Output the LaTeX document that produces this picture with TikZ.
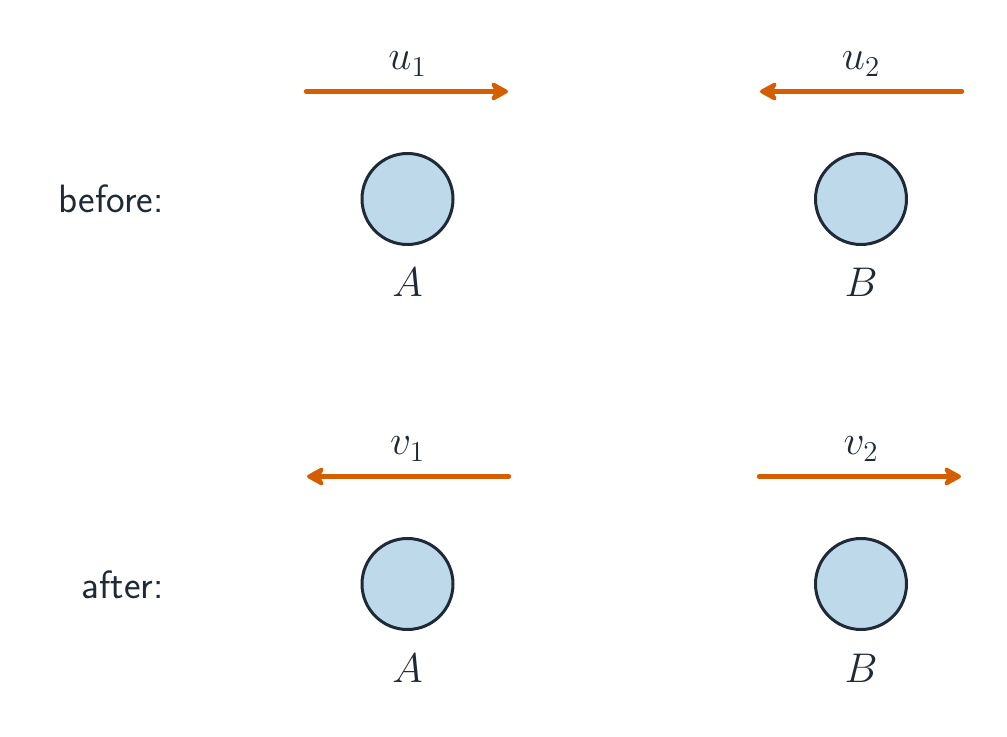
\documentclass[tikz,border=0pt]{standalone}
\usepackage{fontspec}
\usetikzlibrary{arrows.meta}
\definecolor{ink}{HTML}{1F2937}
\definecolor{ballfill}{HTML}{BEDAEA}
\definecolor{vel}{HTML}{D55E00}
\tikzset{
  ball/.style={circle, draw=ink, fill=ballfill, line width=1.5pt, minimum size=45.5pt, inner sep=0pt},
  velarrow/.style={draw=vel, line width=2.2pt, line cap=round, -{Stealth[length=10.5pt, width=11.5pt, inset=3pt, round]}},
  mathlbl/.style={text=ink, anchor=base, inner sep=0pt, font=\fontsize{19.75pt}{24pt}\selectfont},
  rowlbl/.style={text=ink, anchor=base east, inner sep=0pt, font=\sffamily\fontsize{19.75pt}{24pt}\selectfont}
}
\begin{document}
\begin{tikzpicture}[x=0.5pt, y=-0.5pt]
\useasboundingbox (0,0) rectangle (1007,737);
% before row
\node[rowlbl] (before) at (164,213) {before:};
\node[ball] (A1) at (407.5,199) {};
\node[ball] (B1) at (861,199) {};
\node[mathlbl] (lA1) at (407.5,297) {$A$};
\node[mathlbl] (lB1) at (861,297) {$B$};
\coordinate (u1s) at (306,91.5);
\coordinate (u1e) at (508,91.5);
\coordinate (u2s) at (962,91.5);
\coordinate (u2e) at (760,91.5);
\draw[velarrow] (u1s) -- (u1e);
\draw[velarrow] (u2s) -- (u2e);
\node[mathlbl] (lu1) at (407.5,70) {$u_1$};
\node[mathlbl] (lu2) at (861,70) {$u_2$};
% after row
\node[rowlbl] (after) at (164,598) {after:};
\node[ball] (A2) at (407.5,584) {};
\node[ball] (B2) at (861,584) {};
\node[mathlbl] (lA2) at (407.5,682) {$A$};
\node[mathlbl] (lB2) at (861,682) {$B$};
\coordinate (v1s) at (509,476.5);
\coordinate (v1e) at (307,476.5);
\coordinate (v2s) at (759,476.5);
\coordinate (v2e) at (961,476.5);
\draw[velarrow] (v1s) -- (v1e);
\draw[velarrow] (v2s) -- (v2e);
\node[mathlbl] (lv1) at (407.5,455) {$v_1$};
\node[mathlbl] (lv2) at (861,455) {$v_2$};
\end{tikzpicture}
\end{document}
